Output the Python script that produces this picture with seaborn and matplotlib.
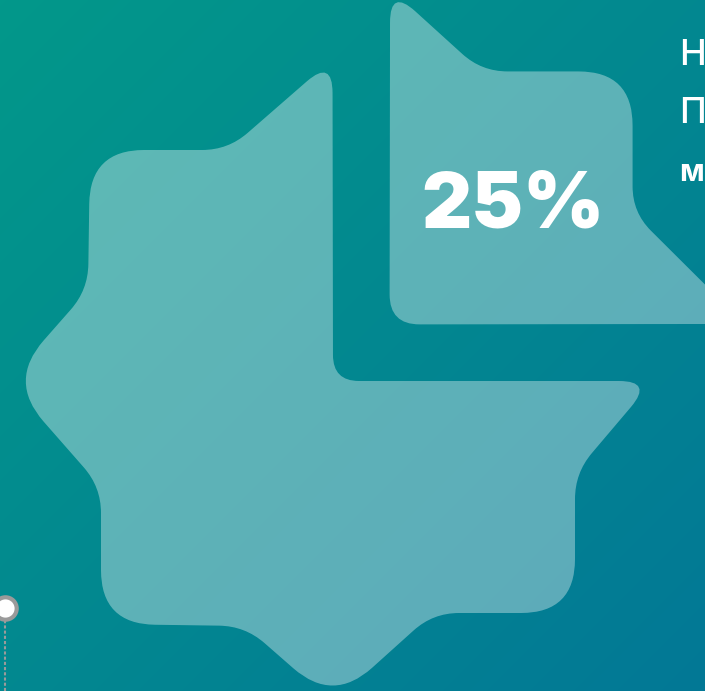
import numpy as np
import matplotlib
matplotlib.use('Agg')
import matplotlib.pyplot as plt
from matplotlib.path import Path
from matplotlib.patches import PathPatch
from matplotlib.colors import LinearSegmentedColormap
import seaborn as sns

# ==========================================
# DATA
# ==========================================
shares = [75, 25]            # pie split, drawn counter-clockwise from 12 o'clock
explode = [0, 80]            # px offset of each slice along its mid angle
slice_labels = ['', '25%']
side_words = ['Н', 'П', 'м']   # cut-off words at the right edge
side_weights = ['medium', 'medium', 'bold']

# ==========================================
# STYLE / SHAPE
# ==========================================
W, H = 705, 691
CX, CY = 333, 310            # star centre (y up)
BG_TL, BG_BR = '#02988a', '#037896'
SHAPE_ALPHA = 0.36

# hand-drawn 8-point star outline (two overlapping squares), CCW from the right tip.
# tips sitting on a cut line are split in two halves so each side can differ a bit
star = np.array([
    (320, 0), (355, 0.5), (243, 112), (243, 253), (92, 253),
    (0.5, 336), (-0.5, 322), (-105, 231), (-243, 231), (-245, 91),
    (-325, 0), (-232, -106), (-232, -243), (-88, -245),
    (0, -322), (100, -232), (242, -232), (242, -92),
], dtype=float)

sns.set_theme(style='white')
plt.rcParams['font.family'] = ['Inter', 'DejaVu Sans']


def ray_hit(poly, t):
    d = np.array([np.cos(t), np.sin(t)])
    best = None
    n = len(poly)
    for i in range(n):
        p, q = poly[i], poly[(i + 1) % n]
        e = q - p
        m = np.array([[d[0], -e[0]], [d[1], -e[1]]])
        if abs(np.linalg.det(m)) < 1e-9:
            continue
        lam, s = np.linalg.solve(m, p)
        if lam > 0 and -1e-9 <= s <= 1 + 1e-9:
            if best is None or lam > best:
                best = lam
    return best * d


def drop_collinear(pts):
    pts = list(pts)
    changed = True
    while changed and len(pts) > 3:
        changed = False
        for i in range(1, len(pts)):
            a, p, b = pts[i - 1], pts[i], pts[(i + 1) % len(pts)]
            da, db = p - a, b - p
            s = (da[0] * db[1] - da[1] * db[0]) / (np.hypot(*da) * np.hypot(*db) + 1e-12)
            if abs(s) < 0.1:
                pts.pop(i)
                changed = True
                break
    return np.array(pts)


def star_slice(t0, t1):
    ang = np.degrees(np.arctan2(star[:, 1], star[:, 0])) % 360
    a0, a1 = np.degrees(t0), np.degrees(t1)
    inside = []
    for v, a in zip(star, ang):
        for aa in (a, a + 360):
            if a0 + 1e-6 < aa < a1 - 1e-6:
                inside.append((aa, v))
    inside.sort(key=lambda z: z[0])
    pts = [np.zeros(2), ray_hit(star, t0)] + [v for _, v in inside] + [ray_hit(star, t1)]
    return drop_collinear(np.array(pts))


def rounded_path(pts):
    n = len(pts)
    verts, codes = [], []
    for i in range(n):
        a, p, b = pts[i - 1], pts[i], pts[(i + 1) % n]
        da, db = a - p, b - p
        la, lb = np.hypot(*da), np.hypot(*db)
        cross = (p[0] - a[0]) * (b[1] - p[1]) - (p[1] - a[1]) * (b[0] - p[0])
        cosang = np.dot(da, db) / (la * lb)
        angle = np.degrees(np.arccos(np.clip(cosang, -1, 1)))
        if i == 0:
            r = 30 if cross > 0 else 26
        elif cross > 0 and angle < 70:
            r = 34
        elif cross > 0:
            r = 54
        else:
            r = 26
        r = min(r, la * 0.45, lb * 0.45)
        p1 = p + da / la * r
        p2 = p + db / lb * r
        verts.append(p1)
        codes.append(Path.MOVETO if i == 0 else Path.LINETO)
        verts += [p, p2]
        codes += [Path.CURVE3, Path.CURVE3]
    verts.append(verts[0])
    codes.append(Path.CLOSEPOLY)
    return Path(np.array(verts), codes)


# ==========================================
# FIGURE
# ==========================================
fig = plt.figure(figsize=(W / 100, H / 100), dpi=100)
ax = fig.add_axes([0, 0, 1, 1])

# diagonal gradient background
xx, yy = np.meshgrid(np.arange(W), np.arange(H))
grad = (xx + yy) / (W + H)
cmap = LinearSegmentedColormap.from_list('bg', [BG_TL, BG_BR])
ax.imshow(grad, cmap=cmap, extent=(0, W, 0, H), origin='upper', aspect='auto', zorder=0)

# star pie
start = np.pi / 2
total = sum(shares)
for share, exp, lab in zip(shares, explode, slice_labels):
    span = 2 * np.pi * share / total
    t0, t1 = start, start + span
    mid = (t0 + t1) / 2
    off = exp * np.array([np.cos(mid), np.sin(mid)])
    pts = star_slice(t0, t1) + off + np.array([CX, CY])
    ax.add_patch(PathPatch(rounded_path(pts), facecolor='white', alpha=SHAPE_ALPHA,
                           edgecolor='none', zorder=2))
    if lab:
        ax.text(CX + off[0] + 123, CY + off[1] + 117, lab, color='white',
                fontsize=56, fontweight=900, ha='center', va='center', zorder=3)
    start = t1

# cut-off text lines at the right
for i, (word, wt) in enumerate(zip(side_words, side_weights)):
    ax.text(679, 626 - i * 58, word, color='white', fontsize=26 if wt != 'bold' else 22,
            fontweight=wt, ha='left', va='baseline', zorder=3)

# timeline marker bottom-left
ax.plot([5, 5], [0, 70], color='#9a9a9a', lw=1.5, ls=(0, (1.5, 1)), zorder=3)
sns.scatterplot(x=[5], y=[83], s=260, color='white', edgecolor='#9a9a9a',
                linewidth=3, ax=ax, zorder=4, legend=False)
ax.set_xlim(0, W)
ax.set_ylim(0, H)
ax.axis('off')

fig.savefig('out.png', dpi=100)
plt.close(fig)
